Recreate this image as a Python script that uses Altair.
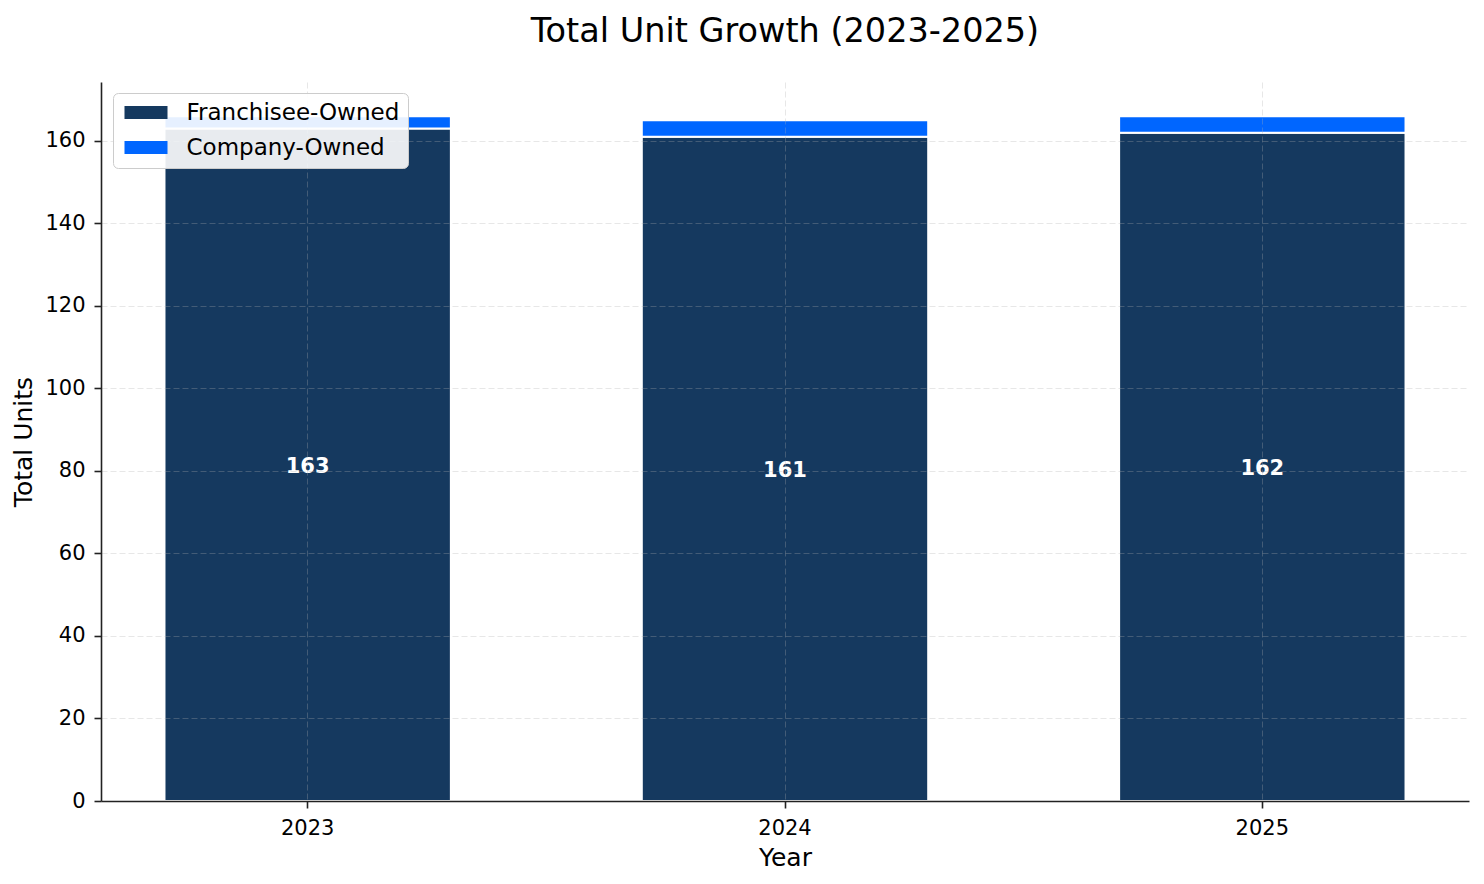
import pandas as pd
import altair as alt

FONT = "DejaVu Sans"
NAVY = "#15395F"
BLUE = "#0066FF"
GRID = "#b0b0b0"

years = ["2023", "2024", "2025"]
franchisee_units = [163, 161, 162]
company_units = [3, 4, 4]
segments = ["Franchisee-Owned", "Company-Owned"]

rows = []
for yr, f, c in zip(years, franchisee_units, company_units):
    rows.append({"Year": yr, "Segment": segments[0], "Units": f, "StackOrder": 0})
    rows.append({"Year": yr, "Segment": segments[1], "Units": c, "StackOrder": 1})
stacked = pd.DataFrame(rows)
labels = pd.DataFrame({"Year": years, "Units": franchisee_units})

x_enc = alt.X(
    "Year:N",
    title="Year",
    scale=alt.Scale(paddingInner=0.4, paddingOuter=0.133),
    axis=alt.Axis(
        labelAngle=0, labelFontSize=21, labelPadding=9,
        titleFontSize=25, titlePadding=7, titleFontWeight="normal",
        tickSize=7, tickWidth=1.6, tickColor="#222",
        domainColor="#222", domainWidth=1.6,
        grid=True, gridColor=GRID, gridOpacity=0.3, gridDash=[6, 3], gridWidth=1,
        zindex=1,
    ),
)

bars = (
    alt.Chart(stacked)
    .mark_bar(stroke="white", strokeWidth=2)
    .encode(
        x=x_enc,
        y=alt.Y(
            "Units:Q",
            title="Total Units",
            stack="zero",
            scale=alt.Scale(domain=[0, 174.3], nice=False),
            axis=alt.Axis(
                values=[0, 20, 40, 60, 80, 100, 120, 140, 160], format="d",
                labelFontSize=21, labelPadding=9,
                titleFontSize=25, titlePadding=8, titleFontWeight="normal",
                tickSize=7, tickWidth=1.6, tickColor="#222",
                domainColor="#222", domainWidth=1.6,
                grid=True, gridColor=GRID, gridOpacity=0.3, gridDash=[6, 3], gridWidth=1,
                zindex=1,
            ),
        ),
        color=alt.Color(
            "Segment:N",
            scale=alt.Scale(domain=segments, range=[NAVY, BLUE]),
            legend=alt.Legend(
                title=None, orient="none", legendX=12, legendY=11,
                symbolType="M-1.955,-0.591H1.955V0.591H-1.955Z",
                symbolSize=484, symbolOffset=13.5, symbolStrokeWidth=0,
                labelOffset=29, labelFontSize=23, labelLimit=400,
                padding=8, rowPadding=11,
                fillColor="rgba(255,255,255,0.9)", strokeColor="#cccccc",
                cornerRadius=5, zindex=2,
            ),
        ),
        order=alt.Order("StackOrder:Q"),
    )
)

text = (
    alt.Chart(labels)
    .transform_calculate(mid="datum.Units / 2")
    .mark_text(color="white", fontWeight="bold", fontSize=21, baseline="middle", dy=2)
    .encode(x=alt.X("Year:N"), y=alt.Y("mid:Q"), text=alt.Text("Units:Q"))
)

chart = (
    alt.layer(bars, text)
    .properties(
        width=1368,
        height=719,
        autosize=alt.AutoSizeParams(type="none"),
        padding={"left": 93, "top": 74, "right": 7, "bottom": 75},
        title=alt.TitleParams(
            "Total Unit Growth (2023-2025)",
            fontSize=33.5, fontWeight="normal", color="black",
            anchor="middle", baseline="alphabetic", offset=7,
        ),
    )
    .configure(font=FONT)
    .configure_axis(labelColor="black", titleColor="black", labelFont=FONT, titleFont=FONT)
    .configure_legend(labelColor="black", labelFont=FONT)
    .configure_title(font=FONT)
    .configure_view(stroke=None)
)

chart.save("out.html", embed_options={"renderer": "svg", "actions": False})
